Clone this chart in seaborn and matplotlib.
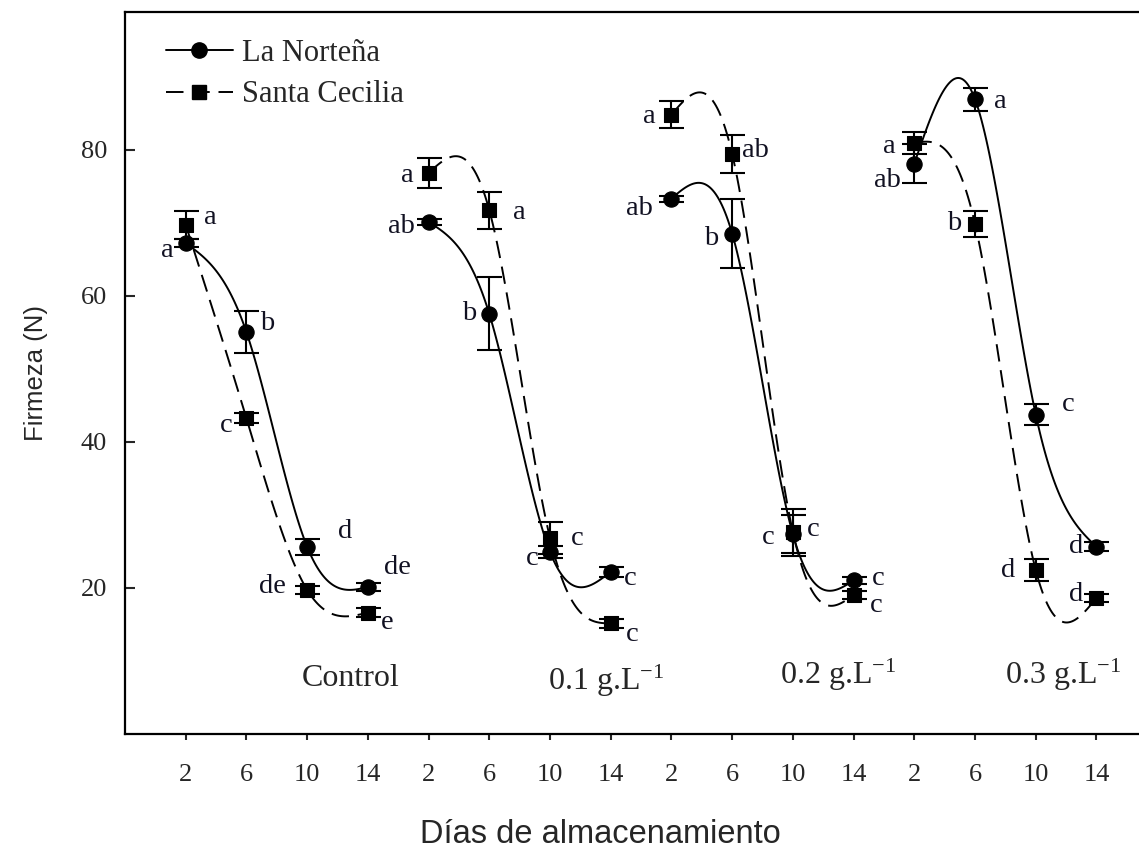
import numpy as np
import pandas as pd
import matplotlib
matplotlib.use("Agg")
import matplotlib.pyplot as plt
import seaborn as sns
from matplotlib.lines import Line2D

# --- data ---
days = [2, 6, 10, 14]
groups = ["Control", "0.1 g.L$^{-1}$", "0.2 g.L$^{-1}$", "0.3 g.L$^{-1}$"]

norte_mean = [67.2, 55.0, 25.6, 20.1,
              70.1, 57.5, 24.9, 22.2,
              73.3, 68.5, 27.3, 21.0,
              78.1, 86.9, 43.7, 25.6]
norte_err = [0.6, 2.9, 1.1, 0.5,
             0.4, 5.0, 0.8, 0.7,
             0.4, 4.7, 2.6, 0.5,
             2.7, 1.6, 1.4, 0.6]
norte_letters = ["a", "b", "d", "de",
                 "ab", "b", "c", "c",
                 "ab", "b", "c", "c",
                 "ab", "a", "c", "d"]

cecilia_mean = [69.7, 43.2, 19.7, 16.6,
                76.8, 71.7, 26.8, 15.1,
                84.8, 79.4, 27.6, 19.0,
                80.9, 69.8, 22.4, 18.6]
cecilia_err = [1.9, 0.7, 0.6, 0.6,
               2.0, 2.5, 2.2, 0.6,
               1.8, 2.6, 3.2, 0.5,
               1.5, 1.8, 1.5, 0.5]
cecilia_letters = ["a", "c", "de", "e",
                   "a", "a", "c", "c",
                   "a", "ab", "c", "c",
                   "a", "b", "d", "d"]

# label offsets in pixels (dx, dy downwards)
norte_off = [(-18, 7), (21, -9), (38, -15), (30, -19),
             (-27, 5), (-20, 0), (-18, 7), (20, 7),
             (-32, 10), (-21, 5), (-25, 3), (25, -2),
             (-27, 17), (25, 2), (32, -10), (-20, 0)]
cecilia_off = [(25, -7), (-20, 7), (-35, -3), (19, 10),
               (-21, 2), (30, 2), (27, 0), (22, 11),
               (-22, 2), (23, -4), (20, -3), (23, 11),
               (-25, 3), (-21, -1), (-28, 0), (-20, -3)]


def natural_spline(x, y, n=120):
    # natural cubic spline through the points (curve style of the original)
    x = np.asarray(x, float)
    y = np.asarray(y, float)
    k = len(x)
    h = np.diff(x)
    A = np.zeros((k, k))
    b = np.zeros(k)
    A[0, 0] = A[-1, -1] = 1
    for i in range(1, k - 1):
        A[i, i - 1] = h[i - 1]
        A[i, i] = 2 * (h[i - 1] + h[i])
        A[i, i + 1] = h[i]
        b[i] = 6 * ((y[i + 1] - y[i]) / h[i] - (y[i] - y[i - 1]) / h[i - 1])
    M = np.linalg.solve(A, b)
    xx = np.linspace(x[0], x[-1], n)
    idx = np.clip(np.searchsorted(x, xx) - 1, 0, k - 2)
    x0, x1 = x[idx], x[idx + 1]
    hh = x1 - x0
    t0, t1 = x1 - xx, xx - x0
    yy = (M[idx] * t0 ** 3 + M[idx + 1] * t1 ** 3) / (6 * hh) \
        + (y[idx] / hh - M[idx] * hh / 6) * t0 \
        + (y[idx + 1] / hh - M[idx + 1] * hh / 6) * t1
    return xx, yy


sns.set_style("ticks")
plt.rcParams['font.family'] = ['Liberation Serif', 'DejaVu Serif']
plt.rcParams['mathtext.fontset'] = 'custom'
plt.rcParams['mathtext.rm'] = 'Liberation Serif'
plt.rcParams['mathtext.it'] = 'Liberation Serif'

positions = np.arange(len(groups) * len(days))
df = pd.DataFrame({
    "pos": np.concatenate([positions, positions]),
    "firmeza": norte_mean + cecilia_mean,
    "err": norte_err + cecilia_err,
    "variedad": ["La Norteña"] * 16 + ["Santa Cecilia"] * 16,
})

fig = plt.figure(figsize=(11.39, 8.56), dpi=100)
ax = fig.add_axes([125 / 1139, 1 - 733.7 / 856, 1014 / 1139, 722 / 856])

dash = (0, (9, 4.5))
series = [
    ("La Norteña", norte_mean, norte_err, norte_letters, norte_off, "-", "o", 120),
    ("Santa Cecilia", cecilia_mean, cecilia_err, cecilia_letters, cecilia_off, dash, "s", 95),
]

for name, mean, err, letters, offs, ls, mk, size in series:
    for g in range(len(groups)):
        sl = slice(4 * g, 4 * g + 4)
        xx, yy = natural_spline(positions[sl], mean[sl])
        ax.plot(xx, yy, color="black", lw=1.4, ls=ls, zorder=2)
    ax.errorbar(positions, mean, yerr=err, fmt="none", ecolor="black",
                elinewidth=1.5, capsize=9, capthick=1.5, zorder=3)
    sub = df[df["variedad"] == name]
    sns.scatterplot(data=sub, x="pos", y="firmeza", marker=mk, color="black",
                    edgecolor="black", s=size, legend=False, ax=ax, zorder=4)
    for p, m, lab, (dx, dy) in zip(positions, mean, letters, offs):
        ax.annotate(lab, (p, m), xytext=(dx, -dy), textcoords="offset pixels",
                    ha="center", va="center", fontsize=20.5, color="#111122")

# treatment labels
group_xy = [(2.72, 7.6), (6.92, 7.3), (10.74, 8.0), (14.45, 8.0)]
for (gx, gy), name in zip(group_xy, groups):
    ax.text(gx, gy, name, ha="center", va="center", fontsize=23)

ax.set_xlim(-1, 15.7)
ax.set_ylim(0, 98.9)
ax.set_xticks(positions)
ax.set_xticklabels([str(d) for d in days] * len(groups))
ax.set_yticks([20, 40, 60, 80])

ax.tick_params(axis="y", direction="in", length=7, width=1.5, pad=13, labelsize=19)
ax.tick_params(axis="x", direction="out", length=4, width=1.5, pad=18, labelsize=19)
for s in ["left", "bottom", "top"]:
    ax.spines[s].set_linewidth(1.6)
    ax.spines[s].set_color("black")
ax.spines["right"].set_visible(False)

ax.set_ylabel("Firmeza (N)", fontsize=18.5, family="Liberation Sans")
ax.set_xlabel("Días de almacenamiento", fontsize=23.5, family="Liberation Sans")
ax.yaxis.set_label_coords(-0.076, 0.5)
ax.xaxis.set_label_coords(0.469, -0.118)

handles = [
    Line2D([], [], color="black", lw=1.4, ls="-", marker="o", markersize=11),
    Line2D([], [], color="black", lw=1.4, ls=dash, marker="s", markersize=10),
]
ax.legend(handles, ["La Norteña", "Santa Cecilia"], loc="upper left",
          bbox_to_anchor=(0.040, 0.962), frameon=False, fontsize=22,
          handlelength=2.2, handletextpad=0.3, labelspacing=0.4,
          borderaxespad=0, borderpad=0)

fig.savefig("out.png", dpi=100)
